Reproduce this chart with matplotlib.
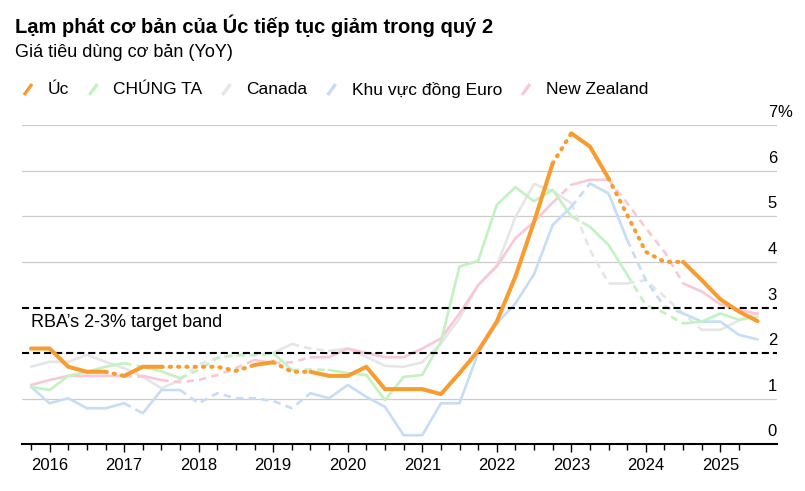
import numpy as np
import matplotlib.pyplot as plt
from matplotlib.lines import Line2D

plt.rcParams['font.family'] = ['Liberation Sans', 'DejaVu Sans']

# quarterly points, Q3 2015 .. Q2 2025
quarters = np.arange(40)
year_pos = [1, 5, 9, 13, 17, 21, 25, 29, 33, 37]
years = ['2016', '2017', '2018', '2019', '2020', '2021', '2022', '2023', '2024', '2025']

aus = [2.1, 2.1, 1.70, 1.59, 1.59, 1.50, 1.70, 1.70, 1.70, 1.70,
       1.70, 1.61, 1.74, 1.80, 1.59, 1.59, 1.50, 1.50, 1.70, 1.21,
       1.21, 1.21, 1.10, 1.56, 2.05, 2.69, 3.68, 4.88, 6.16, 6.82,
       6.53, 5.83, 5.03, 4.22, 4.0, 4.0, 3.60, 3.18, 2.91, 2.70]
us = [1.26, 1.19, 1.50, 1.59, 1.70, 1.78, 1.70, 1.60, 1.45, 1.63,
      1.89, 1.96, 1.96, 2.0, 1.63, 1.64, 1.63, 1.56, 1.52, 0.97,
      1.48, 1.52, 2.25, 3.90, 4.02, 5.25, 5.64, 5.33, 5.58, 5.0,
      4.77, 4.37, 3.72, 3.05, 2.88, 2.65, 2.69, 2.87, 2.73, 2.80]
canada = [1.70, 1.81, 1.81, 1.96, 1.81, 1.67, 1.48, 1.23, 1.41, 1.75,
          1.90, 1.95, 1.95, 2.0, 2.2, 2.1, 2.05, 2.1, 1.92, 1.72,
          1.70, 1.80, 2.21, 2.76, 3.49, 3.92, 4.98, 5.71, 5.55, 5.29,
          4.26, 3.53, 3.53, 3.60, 3.24, 2.87, 2.51, 2.51, 2.72, 2.88]
euro = [1.26, 0.90, 1.01, 0.79, 0.79, 0.90, 0.68, 1.19, 1.19, 0.90,
        1.12, 1.01, 1.01, 0.95, 0.79, 1.12, 1.01, 1.30, 1.04, 0.82,
        0.20, 0.20, 0.90, 0.90, 2.0, 2.65, 3.09, 3.73, 4.81, 5.21,
        5.72, 5.50, 4.48, 3.60, 3.02, 2.87, 2.69, 2.69, 2.40, 2.30]
nz = [1.30, 1.41, 1.50, 1.50, 1.50, 1.50, 1.50, 1.41, 1.36, 1.41,
      1.52, 1.67, 1.85, 1.78, 1.80, 1.91, 1.91, 2.1, 2.0, 1.91,
      1.91, 2.1, 2.32, 2.87, 3.49, 3.90, 4.52, 4.88, 5.30, 5.69,
      5.80, 5.80, 5.29, 4.74, 4.22, 3.53, 3.35, 3.07, 2.95, 2.86]

names = ['Úc', 'CHÚNG TA', 'Canada', 'Khu vực đồng Euro', 'New Zealand']
colors = ['#f89c30', '#c2f2c0', '#e6e6e6', '#c6ddf6', '#f7c9d6']

# stretches drawn broken (start, end quarter index)
broken = {
    'Úc': [(4, 5), (7, 12), (13, 15), (28, 29), (31, 35)],
    'CHÚNG TA': [(5, 6), (8, 13), (14, 16), (29, 30), (32, 35)],
    'Canada': [(5, 6), (8, 13), (14, 16), (29, 31), (32, 36)],
    'Khu vực đồng Euro': [(5, 6), (8, 15), (29, 30), (32, 35)],
    'New Zealand': [(5, 6), (7, 12), (13, 15), (28, 29), (31, 35)],
}

W, H = 805, 491
fig = plt.figure(figsize=(W / 100, H / 100), dpi=100)
ax = fig.add_axes([22 / W, 1 - 444.3 / H, 755 / W, 319.2 / H])


def draw(y, color, lw, dash, cap, parts, z):
    y = np.asarray(y)
    start = 0
    for a, b in parts:
        if a > start:
            ax.plot(quarters[start:a + 1], y[start:a + 1], color=color, lw=lw,
                    solid_capstyle='round', solid_joinstyle='round', zorder=z)
        ax.plot(quarters[a:b + 1], y[a:b + 1], color=color, lw=lw, dashes=dash,
                dash_capstyle=cap, dash_joinstyle='round', zorder=z)
        start = b
    if start < len(y) - 1:
        ax.plot(quarters[start:], y[start:], color=color, lw=lw,
                solid_capstyle='round', solid_joinstyle='round', zorder=z)


series = [aus, us, canada, euro, nz]
for k in [2, 4, 3, 1]:
    draw(series[k], colors[k], 1.9, (2.8, 2.0), 'butt', broken[names[k]], 3)
draw(aus, colors[0], 2.9, (0.33, 1.73), 'round', broken['Úc'], 5)

# grid and target band
for v in [1, 4, 5, 6, 7]:
    ax.axhline(v, color='#cccccc', lw=0.9, zorder=1)
for v in [2, 3]:
    ax.axhline(v, color='black', lw=1.5, dashes=(3.4, 1.9), zorder=4)
ax.text(0, 2.57, 'RBA’s 2-3% target band', fontsize=13, ha='left', va='baseline', zorder=6)

ax.set_xlim(-0.483, 40.04)
ax.set_ylim(0, 7)
for s in ['top', 'left', 'right']:
    ax.spines[s].set_visible(False)
ax.spines['bottom'].set_linewidth(1.5)
ax.spines['bottom'].set_zorder(6)
ax.set_yticks([])
ax.set_xticks(year_pos, years)
ax.set_xticks(np.arange(39), minor=True)
ax.tick_params(axis='x', which='major', length=6, width=1, pad=4, labelsize=12)
ax.tick_params(axis='x', which='minor', length=4.3, width=1)

for v in range(8):
    ax.annotate(str(v), (1, v), xycoords=('axes fraction', 'data'), xytext=(0, 8),
                textcoords='offset pixels', ha='right', va='baseline', fontsize=12)
ax.annotate('%', (1, 7), xycoords=('axes fraction', 'data'), xytext=(0, 8),
            textcoords='offset pixels', ha='left', va='baseline', fontsize=12)

# header
fig.text(15 / W, 1 - 33 / H, 'Lạm phát cơ bản của Úc tiếp tục giảm trong quý 2',
         fontsize=14.5, fontweight='bold', va='baseline')
fig.text(15 / W, 1 - 57 / H, 'Giá tiêu dùng cơ bản (YoY)', fontsize=13, va='baseline')

# legend
r = fig.canvas.get_renderer()
x = 24
for name, c in zip(names, colors):
    fig.add_artist(Line2D([x / W, (x + 8) / W], [1 - 95 / H, 1 - 84 / H], color=c,
                          lw=2.4, solid_capstyle='butt'))
    x += 24
    t = fig.text(x / W, 1 - 94.5 / H, name, fontsize=12.5, va='baseline')
    x += t.get_window_extent(r).width + 20

fig.savefig('out.png', dpi=100)
